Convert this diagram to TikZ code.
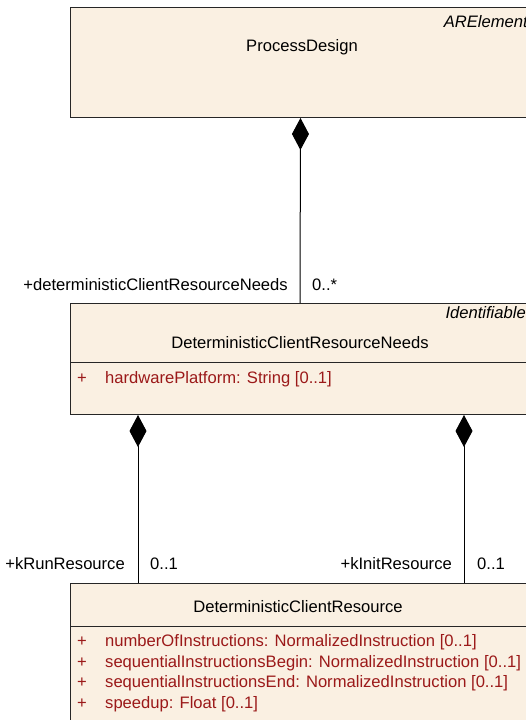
\documentclass[tikz,border=0pt]{standalone}
\usepackage{fontspec}
\setmainfont{Liberation Sans}
\usetikzlibrary{arrows.meta}
\definecolor{boxfill}{RGB}{250,240,226}
\definecolor{attr}{RGB}{155,25,25}
\tikzset{
 classbox/.style={draw=black!85, line width=1pt, fill=boxfill, rectangle, anchor=north west, inner sep=0pt},
 txt/.style={inner sep=0pt, font=\fontsize{16.6}{19}\selectfont},
 stereo/.style={inner sep=0pt, font=\fontsize{16.6}{19}\selectfont\itshape, anchor=east},
 attrtxt/.style={txt, text=attr, anchor=west},
 plus/.style={txt, text=attr},
 lbl/.style={txt},
 comp/.style={line width=1pt, {Diamond[length=32pt,width=17pt]}-},
 sep/.style={line width=1pt, draw=black!85},
}
\begin{document}
\begin{tikzpicture}[x=1pt,y=-1pt]
\useasboundingbox (0,0) rectangle (526,720);
% ProcessDesign
\node[classbox, minimum width=464pt, minimum height=110pt] (pd) at (70,7) {};
\node[stereo] (pdst) at (528,22) {ARElement};
\node[txt] (pdname) at (302,47) {ProcessDesign};
% DeterministicClientResourceNeeds
\node[classbox, minimum width=460pt, minimum height=111pt] (needs) at (70,303) {};
\node[stereo] (needsst) at (526,313) {Identifiable};
\node[txt] (needsname) at (300,343) {DeterministicClientResourceNeeds};
\draw[sep] ([yshift=-59pt]needs.north west) -- ([yshift=-59pt]needs.north east);
\node[plus] (np1) at (82,379) {+};
\node[attrtxt] (na1) at (105,379) {hardwarePlatform: String [0..1]};
% DeterministicClientResource
\node[classbox, minimum width=456pt, minimum height=150pt] (res) at (70,583) {};
\node[txt] (resname) at (298,607) {DeterministicClientResource};
\draw[sep] ([yshift=-43pt]res.north west) -- ([yshift=-43pt]res.north east);
\node[plus] (rp1) at (82,642) {+};
\node[attrtxt] (ra1) at (105,642) {numberOfInstructions: NormalizedInstruction [0..1]};
\node[plus] (rp2) at (82,663) {+};
\node[attrtxt] (ra2) at (105,663) {sequentialInstructionsBegin: NormalizedInstruction [0..1]};
\node[plus] (rp3) at (82,683) {+};
\node[attrtxt] (ra3) at (105,683) {sequentialInstructionsEnd: NormalizedInstruction [0..1]};
\node[plus] (rp4) at (82,704) {+};
\node[attrtxt] (ra4) at (105,704) {speedup: Float [0..1]};
% connectors
\draw[comp] ([xshift=-2pt]pd.south) -- ([xshift=230pt]needs.north west);
\node[lbl, anchor=east] (l1) at (288,285) {+deterministicClientResourceNeeds};
\node[lbl, anchor=west] (m1) at (312,285) {0..*};
\draw[comp] ([xshift=68pt]needs.south west) -- ([xshift=68pt]res.north west);
\node[lbl, anchor=east] (l2) at (125,564) {+kRunResource};
\node[lbl, anchor=west] (m2) at (150,564) {0..1};
\draw[comp] ([xshift=394pt]needs.south west) -- ([xshift=394pt]res.north west);
\node[lbl, anchor=east] (l3) at (452,564) {+kInitResource};
\node[lbl, anchor=west] (m3) at (477,564) {0..1};
\end{tikzpicture}
\end{document}
